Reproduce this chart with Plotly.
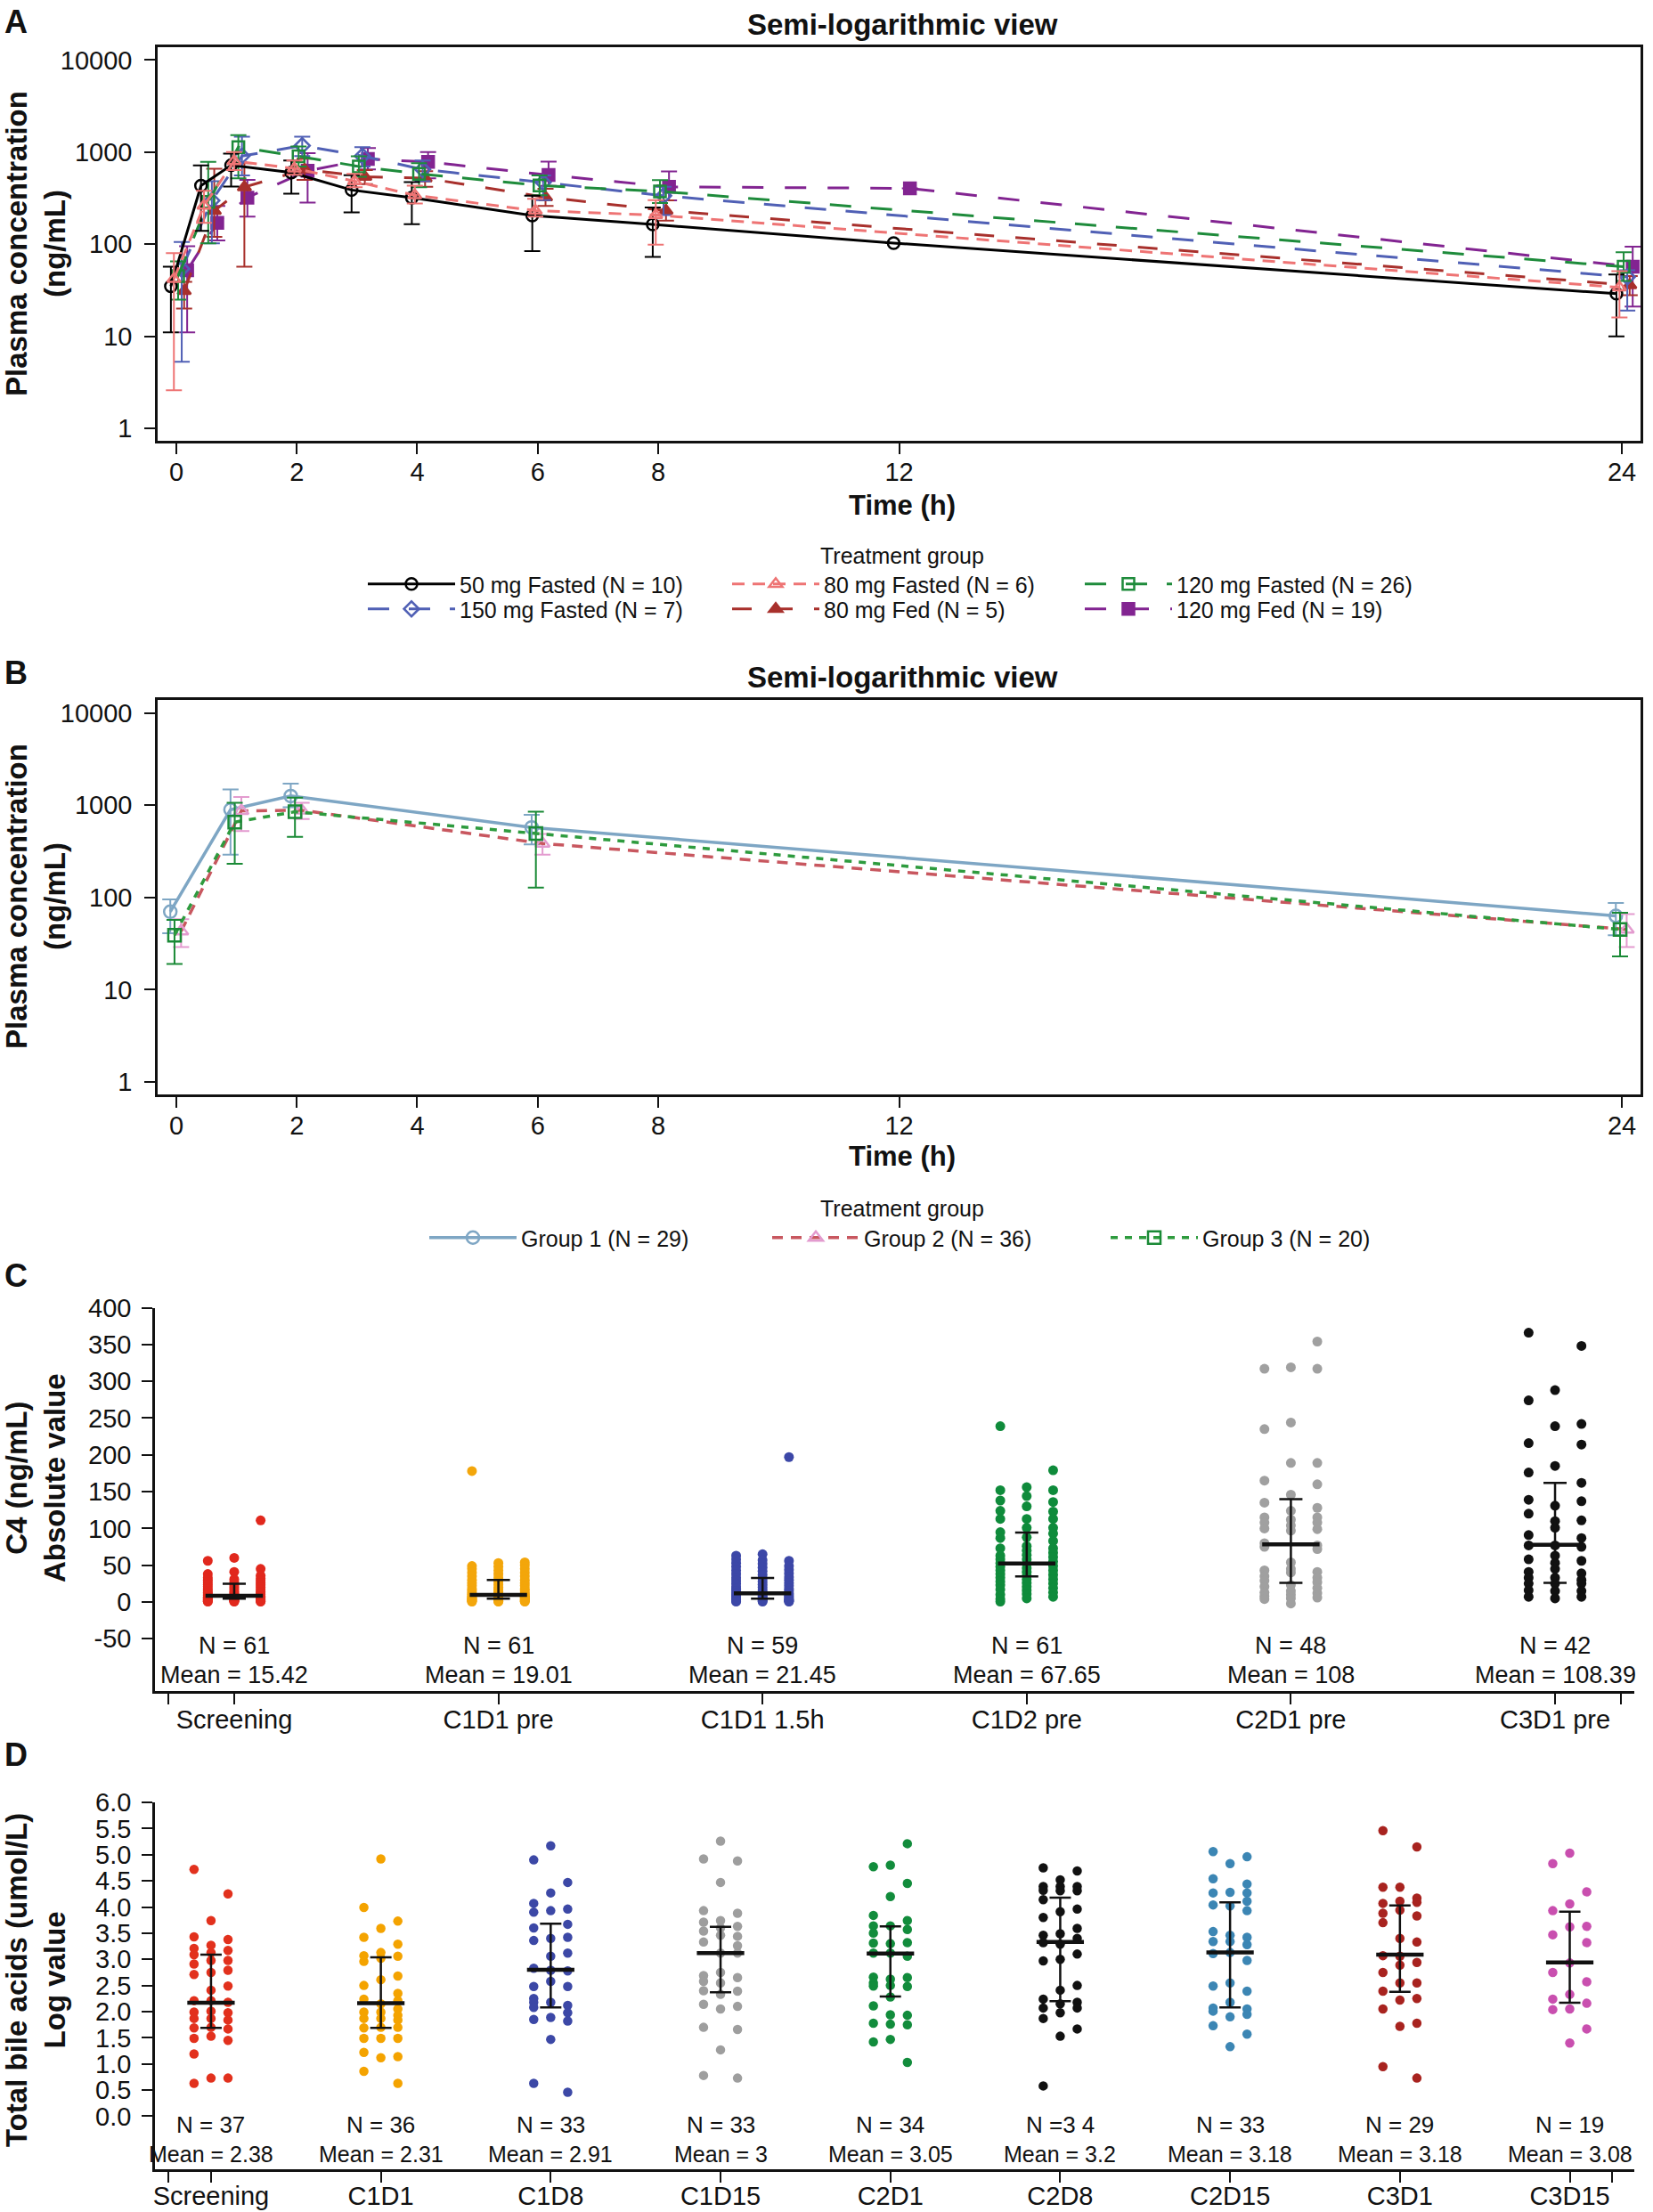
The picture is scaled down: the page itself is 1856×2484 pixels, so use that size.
import plotly.graph_objects as go

W, H = 1856, 2484
FONT = "Liberation Sans, Arial, sans-serif"
INK = "#111111"

# ---------------- panel A: plasma concentration by dose / food ----------------
times_a = [0, 0.5, 1, 2, 3, 4, 6, 8, 12, 24]
names_a = ["50 mg Fasted (N = 10)", "80 mg Fasted (N = 6)", "120 mg Fasted (N = 26)",
           "150 mg Fasted (N = 7)", "80 mg Fed (N = 5)", "120 mg Fed (N = 19)"]
mean_50fa = [35, 433, 720, 600, 388, 320, 205, 164, 103, 29]
hi_50fa = [57, 716, 964, 813, 561, 473, 336, 250, None, 47]
lo_50fa = [11, 140, 423, 354, 222, 165, 84, 73, None, 10]
mean_80fa = [42, 262, 800, 665, 484, 340, 232, 207, None, 34]
hi_80fa = [80, 380, 1000, 813, 582, 433, 312, 301, None, 51]
lo_80fa = [2.6, 171, 640, 569, 417, 277, 200, 99, None, 16]
mean_120fa = [45, 288, 1135, 900, 700, 582, 435, 375, None, 57]
hi_120fa = [65, 783, 1527, 1150, 900, 760, 560, 498, None, 82]
lo_120fa = [25, 102, 521, 700, 540, 417, 340, 280, None, 40]
mean_150fa = [54, 298, 908, 1178, 908, 650, 469, 336, None, 44]
hi_150fa = [106, 483, 1470, 1470, 1135, 813, 560, 420, None, 52]
lo_150fa = [5.3, 102, 560, 908, 699, 483, 301, 207, None, 19]
mean_80fed = [31, 230, 417, 650, 541, 521, 324, 232, None, 36]
hi_80fed = [39, 660, 760, 850, 640, 620, 400, 300, None, 45]
lo_80fed = [20, 120, 57, 500, 450, 420, 260, 180, None, 28]
mean_120fed = [52, 171, 321, 627, 843, 783, 564, 420, 404, 57]
hi_120fed = [95, 260, 500, 977, 1110, 1000, 787, 617, None, 94]
lo_120fed = [11, 110, 200, 283, 650, 521, 430, 300, None, 21]

# ---------------- panel B: plasma concentration by group ----------------
times_b = [0, 1, 2, 6, 24]
names_b = ["Group 1 (N = 29)", "Group 2 (N = 36)", "Group 3 (N = 20)"]
mean_g1 = [70, 893, 1256, 573, 63]
hi_g1 = [95, 1479, 1714, 787, 87]
lo_g1 = [41, 290, 948, 375, 39]
mean_g2 = [43, 867, 879, 384, 45]
hi_g2 = [58, 1227, 1059, 486, 66]
lo_g2 = [29, 524, 705, 290, 29]
mean_g3 = [39, 655, 847, 493, 45]
hi_g3 = [57, 1059, 1202, 847, 68]
lo_g3 = [19, 232, 452, 128, 23]

# ---------------- panel C: C4 absolute value ----------------
c4_labels = ["Screening", "C1D1 pre", "C1D1 1.5h", "C1D2 pre", "C2D1 pre", "C3D1 pre"]
c4_n = [61, 61, 59, 61, 48, 42]
c4_mean = ["15.42", "19.01", "21.45", "67.65", "108", "108.39"]
c4_median = [8.5, 9.7, 11.7, 52.5, 78.3, 77.9]
c4_q1 = [4.5, 4.5, 4.5, 34.7, 25.9, 25.9]
c4_q3 = [24.7, 29.9, 32.7, 94.5, 139.7, 161.9]
# each visit: left / centre / right column of dots
c4_screening = [[56, 38, 33, 30, 27, 24, 21, 18, 15, 13, 11, 9, 7, 6, 5, 4, 3, 2, 1, 0.5],
                [60, 41, 31, 27, 23, 20, 17, 14, 12, 10, 8, 7, 6, 5, 4, 3, 2, 1.5, 1, 0.5],
                [111, 45, 36, 32, 29, 26, 23, 20, 17, 14, 12, 10, 8, 7, 6, 5, 4, 3, 2, 1, 0.5]]
c4_c1d1_pre = [[178, 49, 45, 40, 35, 30, 26, 22, 18, 15, 12, 10, 8, 6, 5, 4, 3, 2, 1, 0.5],
               [53, 48, 43, 38, 33, 28, 24, 20, 17, 14, 12, 10, 8, 6, 5, 4, 3, 2, 1, 0.5],
               [54, 50, 45, 40, 35, 30, 26, 22, 18, 15, 12, 10, 8, 7, 6, 5, 4, 3, 2, 1, 0.5]]
c4_c1d1_15h = [[63, 58, 53, 48, 43, 38, 33, 29, 25, 21, 18, 15, 12, 10, 8, 6, 4, 3, 1.5, 0.5],
               [65, 57, 52, 47, 42, 37, 32, 28, 24, 20, 16, 13, 10, 8, 6, 4, 3, 1.5, 0.5],
               [197, 56, 49, 44, 39, 34, 30, 26, 22, 18, 15, 12, 10, 8, 6, 4, 3, 2, 1, 0.5]]
c4_c1d2_pre = [[239, 152, 138, 124, 113, 95, 87, 73, 63, 58, 53, 48, 43, 38, 33, 28, 23, 17, 10, 4, 0.5],
               [156, 144, 130, 113, 101, 88, 76, 70, 64, 58, 52, 46, 41, 36, 31, 26, 21, 16, 11, 5],
               [179, 152, 136, 123, 113, 101, 93, 83, 73, 67, 61, 55, 49, 43, 37, 31, 25, 19, 13, 7]]
c4_c2d1_pre = [[317, 235, 165, 135, 115, 108, 100, 80, 75, 43, 35, 29, 21, 13, 8, 4],
               [319, 244, 189, 146, 124, 112, 104, 97, 54, 45, 40, 23, 15, 10, 5, -2],
               [354, 317, 189, 160, 128, 115, 108, 99, 77, 72, 41, 33, 27, 19, 12, 6]]
c4_c3d1_pre = [[366, 274, 216, 176, 139, 120, 91, 77, 58, 41, 33, 25, 16, 7],
               [288, 239, 185, 131, 110, 101, 77, 63, 53, 45, 33, 25, 15, 5],
               [348, 242, 214, 162, 137, 111, 87, 75, 56, 39, 30, 25, 15, 7]]
c4_colors = ["#E1281D", "#F3A60B", "#3C47A7", "#0F8B3B", "#A0A0A0", "#111111"]

# ---------------- panel D: total bile acids, log value ----------------
tba_labels = ["Screening", "C1D1", "C1D8", "C1D15", "C2D1", "C2D8", "C2D15", "C3D1", "C3D15"]
tba_n = ["N = 37", "N = 36", "N = 33", "N = 33", "N = 34", "N =3 4", "N = 33", "N = 29", "N = 19"]
tba_mean = ["2.38", "2.31", "2.91", "3", "3.05", "3.2", "3.18", "3.18", "3.08"]
tba_median = [2.17, 2.16, 2.80, 3.12, 3.11, 3.33, 3.13, 3.09, 2.94]
tba_q1 = [1.69, 1.69, 2.08, 2.37, 2.29, 2.20, 2.08, 2.38, 2.17]
tba_q3 = [3.09, 3.04, 3.68, 3.62, 3.63, 4.18, 4.09, 4.03, 3.91]
tba_screening = [[4.72, 3.43, 3.21, 3.09, 2.91, 2.71, 2.21, 1.99, 1.87, 1.69, 1.49, 1.19, 0.63],
                 [3.74, 3.27, 3.13, 2.98, 2.75, 2.41, 2.21, 2.01, 1.87, 1.70, 1.53, 0.73],
                 [4.25, 3.38, 3.17, 2.98, 2.79, 2.49, 2.18, 1.98, 1.84, 1.67, 1.45, 0.73]]
tba_c1d1 = [[3.99, 3.42, 3.07, 2.96, 2.50, 2.24, 1.99, 1.87, 1.69, 1.49, 1.22, 0.86],
            [4.92, 3.59, 3.13, 3.02, 2.61, 2.15, 1.99, 1.87, 1.70, 1.49, 1.12],
            [3.73, 3.29, 3.06, 2.68, 2.35, 2.21, 2.05, 1.93, 1.84, 1.70, 1.49, 1.14, 0.63]]
tba_c1d8 = [[4.90, 4.07, 3.90, 3.60, 3.36, 2.83, 2.48, 2.25, 2.18, 2.08, 1.85, 0.63],
            [5.17, 4.27, 3.93, 3.40, 3.06, 2.79, 2.58, 2.18, 1.89, 1.47],
            [4.47, 3.96, 3.67, 3.42, 3.12, 2.78, 2.48, 2.12, 1.98, 1.82, 0.46]]
tba_c1d15 = [[4.92, 3.93, 3.71, 3.54, 3.33, 2.69, 2.58, 2.40, 2.14, 1.70, 0.78],
             [5.26, 4.47, 3.74, 3.60, 3.46, 3.12, 2.75, 2.55, 2.33, 2.05, 1.27],
             [4.88, 3.88, 3.63, 3.44, 3.26, 3.12, 2.65, 2.39, 2.10, 1.66, 0.73]]
tba_c2d1 = [[4.77, 3.84, 3.64, 3.50, 3.31, 3.12, 2.66, 2.55, 2.49, 2.11, 1.78, 1.42],
            [4.80, 4.20, 3.64, 3.30, 3.12, 2.62, 2.50, 2.28, 1.94, 1.76, 1.47],
            [5.21, 4.45, 3.74, 3.57, 3.32, 3.06, 2.65, 2.48, 1.93, 1.75, 1.03]]
tba_c2d8 = [[4.75, 4.39, 4.32, 4.14, 3.80, 3.46, 3.32, 2.97, 2.24, 2.07, 1.87, 0.58],
            [4.52, 4.39, 4.31, 3.91, 3.49, 3.29, 3.00, 2.41, 2.15, 1.98, 1.53],
            [4.69, 4.39, 4.31, 3.96, 3.59, 3.40, 3.10, 2.50, 2.18, 2.07, 1.67]]
tba_c2d15 = [[5.06, 4.54, 4.27, 4.04, 3.53, 3.34, 3.11, 2.49, 2.07, 2.01, 1.73],
             [4.83, 4.28, 4.02, 3.46, 3.34, 3.13, 2.55, 2.18, 1.90, 1.33],
             [4.96, 4.44, 4.27, 4.11, 3.93, 3.42, 3.28, 2.98, 2.39, 2.05, 1.95, 1.57]]
tba_c3d1 = [[5.46, 4.38, 4.07, 3.88, 3.70, 3.07, 2.75, 2.39, 2.05, 0.95],
            [4.38, 4.11, 3.94, 3.40, 3.06, 2.89, 2.55, 2.22, 1.72],
            [5.15, 4.17, 4.09, 3.83, 3.33, 2.94, 2.55, 2.25, 1.78, 0.73]]
tba_c3d15 = [[4.83, 3.93, 3.47, 2.75, 2.24, 2.04],
             [5.03, 4.06, 3.62, 2.93, 2.33, 2.05, 1.40],
             [4.29, 3.63, 3.32, 2.57, 2.16, 1.67]]
tba_colors = ["#E2311D", "#F4A300", "#3C48A6", "#9E9E9E", "#128C3C",
              "#111111", "#3C86B4", "#A8231F", "#C94FAF"]


def up(mean, hi):
    return [h - m if (h is not None and m is not None) else None for m, h in zip(mean, hi)]


def down(mean, lo):
    return [m - l if (l is not None and m is not None) else None for m, l in zip(mean, lo)]


def py(p):
    return 1 - p / H


fig = go.Figure()
legends = {}

# ---- A traces
series_a = [(mean_50fa, hi_50fa, lo_50fa), (mean_80fa, hi_80fa, lo_80fa),
            (mean_120fa, hi_120fa, lo_120fa), (mean_150fa, hi_150fa, lo_150fa),
            (mean_80fed, hi_80fed, lo_80fed), (mean_120fed, hi_120fed, lo_120fed)]
look_a = [("#000000", "circle-open", "solid", -0.09),
          ("#EE7474", "triangle-up-open", "14px,9px", -0.04),
          ("#1E8B3B", "square-open", "24px,22px", 0.03),
          ("#5060B5", "diamond-open", "24px,22px", 0.09),
          ("#A8302C", "triangle-up", "22px,24px", 0.13),
          ("#822491", "square", "24px,24px", 0.18)]
spot_a = [(408, 656), (817, 656), (1213, 656), (408, 684), (817, 684), (1213, 684)]
order_a = [5, 4, 3, 2, 0, 1]
for k in order_a:
    mean, hi, lo = series_a[k]
    color, sym, dash, off = look_a[k]
    lg = "legend" if k == 0 else "legend%d" % (k + 1)
    fig.add_trace(go.Scatter(
        x=[t + off for t in times_a], y=mean, name=names_a[k], legend=lg,
        mode="lines+markers", connectgaps=True,
        line=dict(color=color, width=3, dash=dash),
        marker=dict(symbol=sym, size=13, color=color, line=dict(color=color, width=2.5)),
        error_y=dict(type="data", symmetric=False, array=up(mean, hi), arrayminus=down(mean, lo),
                     color=color, thickness=2, width=9),
        xaxis="x", yaxis="y"))
    legends[lg] = dict(x=spot_a[k][0] / W, y=py(spot_a[k][1]))

# ---- B traces
series_b = [(mean_g1, hi_g1, lo_g1), (mean_g2, hi_g2, lo_g2), (mean_g3, hi_g3, lo_g3)]
look_b = [("#7EA6C4", "#7EA6C4", "circle-open", "solid", -0.10),
          ("#C8575F", "#E39BCF", "triangle-up-open", "12px,9px", 0.08),
          ("#2E9B3E", "#1A8A36", "square-open", "8px,8px", -0.03)]
spot_b = [477, 862, 1242]
for k in range(3):
    mean, hi, lo = series_b[k]
    lcol, mcol, sym, dash, off = look_b[k]
    lg = "legend%d" % (k + 7)
    fig.add_trace(go.Scatter(
        x=[t + off for t in times_b], y=mean, name=names_b[k], legend=lg,
        mode="lines+markers",
        line=dict(color=lcol, width=3.5, dash=dash),
        marker=dict(symbol=sym, size=14, color=mcol, line=dict(color=mcol, width=2.5)),
        error_y=dict(type="data", symmetric=False, array=up(mean, hi), arrayminus=down(mean, lo),
                     color=mcol, thickness=2, width=9),
        xaxis="x2", yaxis="y2"))
    legends[lg] = dict(x=spot_b[k] / W, y=py(1390))


# ---- C and D strip plots
def strip(groups, colors, median, q1, q3, xa, ya, size, bar, cap):
    for i, cols in enumerate(groups):
        xs, ys = [], []
        for c, vals in enumerate(cols):
            xs += [i + (c - 1) * 0.1] * len(vals)
            ys += vals
        fig.add_trace(go.Scatter(x=xs, y=ys, mode="markers", showlegend=False,
                                 marker=dict(color=colors[i], size=size, line=dict(width=0)),
                                 xaxis=xa, yaxis=ya))
    fig.add_trace(go.Scatter(
        x=list(range(len(groups))), y=median, mode="markers", showlegend=False,
        marker=dict(symbol="line-ew", size=bar, line=dict(color=INK, width=4.5)),
        error_y=dict(type="data", symmetric=False, array=up(median, q3), arrayminus=down(median, q1),
                     color=INK, thickness=2.5, width=cap),
        xaxis=xa, yaxis=ya))


strip([c4_screening, c4_c1d1_pre, c4_c1d1_15h, c4_c1d2_pre, c4_c2d1_pre, c4_c3d1_pre],
      c4_colors, c4_median, c4_q1, c4_q3, "x3", "y3", 11, 46, 13)
strip([tba_screening, tba_c1d1, tba_c1d8, tba_c1d15, tba_c2d1, tba_c2d8, tba_c2d15, tba_c3d1, tba_c3d15],
      tba_colors, tba_median, tba_q1, tba_q3, "x4", "y4", 10.5, 38, 12)

# ---- axes
tick = dict(family=FONT, size=29, color=INK)
base = dict(showline=True, linecolor=INK, linewidth=2.5, ticks="outside", ticklen=12, tickwidth=2,
            tickcolor=INK, showgrid=False, zeroline=False, tickfont=tick, automargin=False)
log_y = dict(type="log", range=[-0.135, 4.14], tickvals=[1, 10, 100, 1000, 10000],
             ticktext=["1", "10", "100", "1000", "10000"], mirror=True, ticklabelstandoff=8)
time_x = dict(range=[-0.31, 24.31], tickvals=[0, 2, 4, 6, 8, 12, 24], mirror=True,
              ticklabelstandoff=-5)
c4_ticks = list(range(-50, 401, 50))
tba_ticks = [i * 0.5 for i in range(13)]

fig.update_layout(
    width=W, height=H, autosize=False, margin=dict(l=0, r=0, t=0, b=0),
    paper_bgcolor="white", plot_bgcolor="white",
    font=dict(family=FONT, color=INK),
    xaxis=dict(domain=[177 / W, 1842 / W], anchor="y", **time_x, **base),
    yaxis=dict(domain=[py(495), py(53)], anchor="x", **log_y, **base),
    xaxis2=dict(domain=[177 / W, 1842 / W], anchor="y2", **time_x, **base),
    yaxis2=dict(domain=[py(1229), py(786)], anchor="x2", **log_y, **base),
    xaxis3=dict(domain=[174 / W, 1835 / W], anchor="y3", range=[-0.30, 5.30],
                tickvals=[-0.25, 0, 1, 2, 3, 4, 5, 5.25], ticktext=[""] + c4_labels + [""],
                ticklabelstandoff=-8, **base),
    yaxis3=dict(domain=[py(1899), py(1468.5)], anchor="x3", range=[-121, 400],
                tickvals=c4_ticks, ticktext=[str(v) for v in c4_ticks], ticklabelstandoff=6, **base),
    xaxis4=dict(domain=[174 / W, 1835 / W], anchor="y4", range=[-0.33, 8.38],
                tickvals=[-0.25] + list(range(9)) + [8.25], ticktext=[""] + tba_labels + [""],
                ticklabelstandoff=-10, **base),
    yaxis4=dict(domain=[py(2436), py(2024)], anchor="x4", range=[-1.013, 6.0],
                tickvals=tba_ticks, ticktext=["%.1f" % v for v in tba_ticks], ticklabelstandoff=6, **base),
)

for name, pos in legends.items():
    fig.update_layout({name: dict(x=pos["x"], y=pos["y"], xanchor="left", yanchor="middle",
                                  bgcolor="rgba(0,0,0,0)", itemwidth=98, tracegroupgap=0,
                                  font=dict(family=FONT, size=25, color=INK))})

# ---- text
notes = []


def note(text, x, y, size, bold=False, angle=0, xref="paper", yref="paper", xanchor="center"):
    notes.append(dict(text="<b>%s</b>" % text if bold else text, x=x, y=y, xref=xref, yref=yref,
                      xanchor=xanchor, yanchor="middle", textangle=angle, showarrow=False,
                      font=dict(family=FONT, size=size, color=INK)))


for letter, ypx in [("A", 24), ("B", 755), ("C", 1432), ("D", 1970)]:
    note(letter, 18 / W, py(ypx), 36, bold=True)
for ypx in (27, 760):
    note("Semi-logarithmic view", 1013 / W, py(ypx), 33, bold=True)
for ypx in (567, 1298):
    note("Time (h)", 1013 / W, py(ypx), 31, bold=True)
note("Plasma concentration<br>(ng/mL)", 40 / W, py(274), 33, bold=True, angle=-90)
note("Plasma concentration<br>(ng/mL)", 40 / W, py(1007), 33, bold=True, angle=-90)
note("C4 (ng/mL)<br>Absolute value", 40 / W, py(1660), 33, bold=True, angle=-90)
note("Total bile acids (umol/L)<br>Log value", 40 / W, py(2224), 33, bold=True, angle=-90)
note("Treatment group", 1013 / W, py(624), 25)
note("Treatment group", 1013 / W, py(1357), 25)

for i in range(len(c4_labels)):
    note("N = %d" % c4_n[i], i, -59, 27, xref="x3", yref="y3")
    note("Mean = %s" % c4_mean[i], i, -99, 27, xref="x3", yref="y3")
for i in range(len(tba_labels)):
    note(tba_n[i], i, -0.17, 26, xref="x4", yref="y4")
    note("Mean = %s" % tba_mean[i], i, -0.72, 25, xref="x4", yref="y4")

fig.update_layout(annotations=notes)

fig.write_html("out.html", config={"displayModeBar": False},
               post_script="document.body.style.margin='0px';")
